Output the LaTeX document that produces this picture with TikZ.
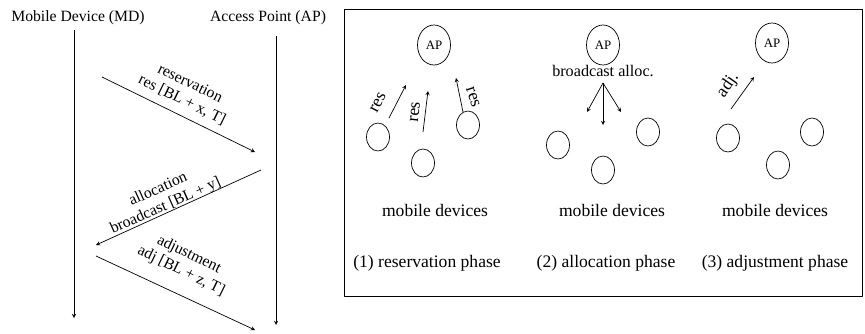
\documentclass[tikz,border=0pt]{standalone}
\usepackage{fontspec}
\setmainfont{Liberation Serif}
\usetikzlibrary{shapes.geometric}

\tikzset{
  apnode/.style={draw, ellipse, inner sep=0pt, minimum width=0.99cm, minimum height=1.2cm, font=\fontsize{11}{12}\selectfont},
  mdnode/.style={draw, ellipse, inner sep=0pt, minimum width=0.69cm, minimum height=0.84cm},
  msglabel/.style={align=center, inner sep=0pt, font=\fontsize{13.4}{15.5}\selectfont},
  bigtext/.style={inner sep=0pt, font=\fontsize{15}{16}\selectfont}
}

\begin{document}
\begin{tikzpicture}[x=0.03cm, y=-0.03cm, line join=round, >=stealth, line width=0.6pt, font=\fontsize{13.4}{15.5}\selectfont]
\useasboundingbox (0,0) rectangle (865,333);
% time lines
\node (mdhead) at (78,18) {Mobile Device (MD)};
\node (aphead) at (268,18) {Access Point (AP)};
\coordinate (mdtop) at (74,30);
\coordinate (mdbot) at (74,318);
\coordinate (aptop) at (276,36);
\coordinate (apbot) at (276,325);
\draw[->] (mdtop)--(mdbot);
\draw[->] (aptop)--(apbot);
% messages
\coordinate (m1s) at (102,77);
\coordinate (m1e) at (255,152);
\coordinate (m2s) at (261,170);
\coordinate (m2e) at (96,245);
\coordinate (m3s) at (96,256);
\coordinate (m3e) at (255,330);
\draw[->] (m1s)--(m1e);
\draw[->] (m2s)--(m2e);
\draw[->] (m3s)--(m3e);
\node[msglabel, rotate=-26] (l1) at (186,92) {reservation\\res [BL + x, T]};
\node[msglabel, rotate=24] (l2) at (162,198) {allocation\\broadcast [BL + y]};
\node[msglabel, rotate=-26] (l3) at (185,263) {adjustment\\adj [BL + z, T]};

% the three phases
\draw (344,9) rectangle (862,296);
\foreach \n/\x/\y in {1/434/45, 2/603/45, 3/772/43}
  \node[apnode] (ap\n) at (\x,\y) {AP};
\foreach \n/\x/\y in {a/378/137, b/423/163, c/468/125,
                      d/558/145, e/603/170, f/648/132,
                      g/728/138, h/778/165, i/812/132}
  \node[mdnode] (md\n) at (\x,\y) {};
\foreach \x/\t in {435/mobile devices, 612/mobile devices, 775/mobile devices}
  \node[bigtext] at (\x,210) {\t};
\node[bigtext] (ph1) at (427,263) {(1) reservation phase};
\node[bigtext] (ph2) at (606,263) {(2) allocation phase};
\node[bigtext] (ph3) at (775,263) {(3) adjustment phase};
% reservation
\coordinate (r1s) at (389,118); \coordinate (r1e) at (406,85);
\coordinate (r2s) at (423,132); \coordinate (r2e) at (428,91);
\coordinate (r3s) at (463,112); \coordinate (r3e) at (456,78);
\draw[->] (r1s)--(r1e);
\draw[->] (r2s)--(r2e);
\draw[->] (r3s)--(r3e);
\node[bigtext, rotate=62] at (378,103) {res};
\node[bigtext, rotate=84] at (415,112) {res};
\node[bigtext, rotate=-72] at (473,97) {res};
% allocation
\node[bigtext, font=\fontsize{13.8}{15}\selectfont] (bc) at (603,71) {broadcast alloc.};
\coordinate (bo) at (603,83);
\coordinate (b1) at (587,112);
\coordinate (b2) at (603,125);
\coordinate (b3) at (621,112);
\foreach \b in {b1,b2,b3}
  \draw[->] (bo)--(\b);
% adjustment
\coordinate (as) at (731,109);
\coordinate (ae) at (754,77);
\draw[->] (as)--(ae);
\node[bigtext, rotate=55] at (728,85) {adj.};
\end{tikzpicture}
\end{document}
